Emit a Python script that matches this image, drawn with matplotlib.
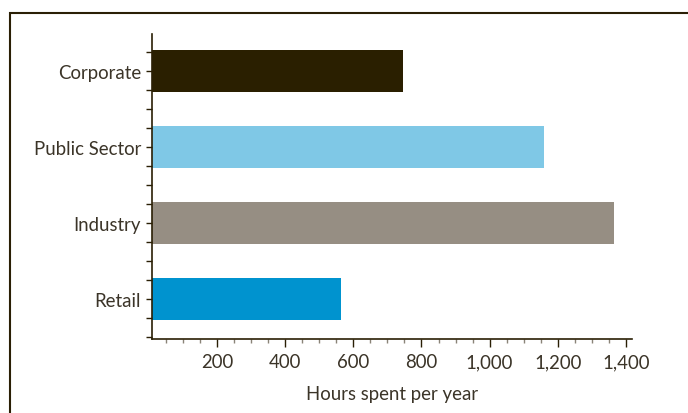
import numpy as np
import matplotlib.pyplot as plt
from matplotlib.ticker import MultipleLocator, FuncFormatter
from matplotlib.patches import Rectangle

plt.rcParams['font.family'] = ['Lato', 'DejaVu Sans']

sectors = ['Retail', 'Industry', 'Public Sector', 'Corporate']
hours = [565, 1365, 1160, 745]
colors = ['#0093cf', '#968e83', '#7fc8e6', '#2a1f00']

ink = '#2a1f05'
txt = '#3b3428'

fig = plt.figure(figsize=(6.88, 4.14), dpi=100)
# border around the figure: top and left edges visible
fig.add_artist(Rectangle((10 / 688, -0.1), 1.2, (414 - 14) / 414 + 0.1,
                         transform=fig.transFigure, fill=False,
                         edgecolor=ink, linewidth=1.5))

ax = fig.add_axes([152 / 688, 74 / 414, 480 / 688, 305 / 414])
y = np.arange(len(sectors))
ax.barh(y, hours, height=0.55, color=colors)

ax.set_xlim(9, 1418)
ax.set_ylim(-0.52, 3.48)

ax.xaxis.set_major_locator(MultipleLocator(200))
ax.xaxis.set_minor_locator(MultipleLocator(50))
ax.xaxis.set_major_formatter(FuncFormatter(lambda v, p: f'{int(v):,}'))
ax.set_yticks(y)
ax.set_yticklabels(sectors)
ax.yaxis.set_minor_locator(MultipleLocator(0.25))

for s in ['top', 'right']:
    ax.spines[s].set_visible(False)
for s in ['left', 'bottom']:
    ax.spines[s].set_color(ink)
    ax.spines[s].set_linewidth(1.2)

ax.tick_params(axis='x', which='major', length=6, width=1, color=ink,
               labelsize=13.4, labelcolor=txt, pad=4)
ax.tick_params(axis='x', which='minor', length=3, width=1, color='#8a8478')
ax.tick_params(axis='y', which='both', length=4, width=1, color=ink,
               labelsize=13.4, labelcolor=txt, pad=4)

ax.set_xlabel('Hours spent per year', fontsize=13.4, color=txt, labelpad=11)

fig.savefig('out.png', dpi=100, facecolor='white')
